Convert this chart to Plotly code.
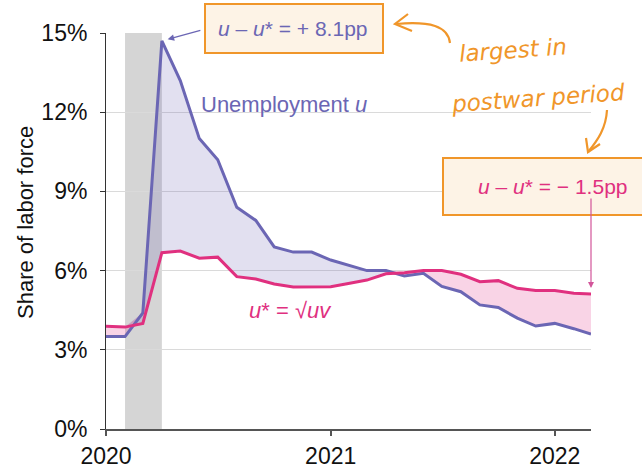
import plotly.graph_objects as go
import pandas as pd

# ---- data ----
months = pd.date_range("2020-01-01", "2022-03-01", freq="MS").strftime("%Y-%m-%d").tolist()
unemployment = [3.5, 3.5, 4.4, 14.7, 13.2, 11.0, 10.2, 8.4, 7.9, 6.9, 6.7, 6.7,
                6.4, 6.2, 6.0, 6.0, 5.8, 5.9, 5.4, 5.2, 4.7, 4.6, 4.2, 3.9,
                4.0, 3.8, 3.6]
u_star = [3.89, 3.86, 4.0, 6.68, 6.74, 6.47, 6.51, 5.77, 5.68, 5.49, 5.38, 5.39,
          5.39, 5.52, 5.64, 5.88, 5.92, 6.0, 6.0, 5.86, 5.58, 5.62, 5.33, 5.25,
          5.25, 5.14, 5.11]
recession = ["2020-02-01", "2020-04-01"]
y_ticks = [0, 3, 6, 9, 12, 15]
y_ticklabels = ["0%", "3%", "6%", "9%", "12%", "15%"]
x_ticks = ["2020-01-01", "2021-01-01", "2022-01-01"]
x_ticklabels = ["2020", "2021", "2022"]
gap_peak = "+ 8.1pp"
gap_last = "− 1.5pp"

upper = [max(a, b) for a, b in zip(unemployment, u_star)]

U_COL = "#6b66b4"
S_COL = "#e0307f"
ORANGE = "#f0962a"
FONT = "Liberation Sans, Arial, sans-serif"

# plot area in pixels
L, R, T, B = 106, 591, 33, 429
def px(x):
    return (x - L) / (R - L)
def py(y):
    return (B - y) / (B - T)

fig = go.Figure()
# lavender fill where u > u*
fig.add_trace(go.Scatter(x=months, y=u_star, mode="lines", line=dict(width=0), hoverinfo="skip", showlegend=False))
fig.add_trace(go.Scatter(x=months, y=upper, mode="lines", line=dict(width=0), fill="tonexty",
                         fillcolor="rgba(108,102,180,0.2)", hoverinfo="skip", showlegend=False))
# pink fill where u* > u
fig.add_trace(go.Scatter(x=months, y=unemployment, mode="lines", line=dict(width=0), hoverinfo="skip", showlegend=False))
fig.add_trace(go.Scatter(x=months, y=upper, mode="lines", line=dict(width=0), fill="tonexty",
                         fillcolor="rgba(228,60,140,0.22)", hoverinfo="skip", showlegend=False))
# lines
fig.add_trace(go.Scatter(x=months, y=unemployment, mode="lines", line=dict(color=U_COL, width=3), showlegend=False))
fig.add_trace(go.Scatter(x=months, y=u_star, mode="lines", line=dict(color=S_COL, width=3), showlegend=False))

shapes = [
    dict(type="rect", xref="x", yref="y", x0=recession[0], x1=recession[1], y0=0, y1=15,
         fillcolor="#d5d5d5", line=dict(width=0), layer="below"),
    # annotation boxes
    dict(type="rect", xref="paper", yref="paper", x0=px(205), x1=px(383), y0=py(4), y1=py(53),
         fillcolor="#fdf3e6", line=dict(color=ORANGE, width=2)),
    dict(type="rect", xref="paper", yref="paper", x0=px(443), x1=px(660), y0=py(158), y1=py(215),
         fillcolor="#fdf3e6", line=dict(color=ORANGE, width=2)),
]

# handwritten arrows
a1 = "M {},{} C {},{} {},{} {},{}".format(px(450), py(43), px(448), py(26), px(430), py(21), px(396), py(24))
a1h = "M {},{} L {},{} L {},{}".format(px(408), py(14), px(395), py(24), px(412), py(31))
a2 = "M {},{} C {},{} {},{} {},{}".format(px(607), py(110), px(606), py(128), px(598), py(140), px(588), py(152))
a2h = "M {},{} L {},{} L {},{}".format(px(586), py(138), px(588), py(152), px(600), py(144))
for p in (a1, a1h, a2, a2h):
    shapes.append(dict(type="path", xref="paper", yref="paper", path=p,
                       line=dict(color=ORANGE, width=2.2)))

def label(x, y, text, size, color, family=FONT, angle=0):
    return dict(xref="paper", yref="paper", x=px(x), y=py(y), xanchor="center", yanchor="middle",
                showarrow=False, text=text, textangle=angle,
                font=dict(family=family, size=size, color=color))

annotations = [
    label(293, 28, "<i>u</i> – <i>u</i>* = " + gap_peak, 21, U_COL),
    label(553, 186, "<i>u</i> – <i>u</i>* = " + gap_last, 21, S_COL),
    label(284, 105, "Unemployment <i>u</i>", 22, U_COL),
    label(290, 310, "<i>u</i>* = √<i>uv</i>", 22, S_COL),
    label(513, 50, "<i>largest in</i>", 23, ORANGE, "DejaVu Sans", -4),
    label(538, 98, "<i>postwar period</i>", 23, ORANGE, "DejaVu Sans", -4),
    label(25, 223, "Share of labor force", 22, "#111", FONT, -90),
    # arrow to peak
    dict(xref="x", yref="y", x=months[3], y=unemployment[3], ax=40, ay=-11, showarrow=True,
         arrowhead=2, arrowsize=1, arrowwidth=1.3, arrowcolor=U_COL, standoff=6, text=""),
    # arrow to last
    dict(xref="x", yref="y", x=months[-1], y=u_star[-1], ax=0, ay=-97, showarrow=True,
         arrowhead=2, arrowsize=1, arrowwidth=1.2, arrowcolor="#d2559a", standoff=6, text=""),
]

fig.update_layout(
    width=642, height=471,
    margin=dict(l=L, r=642 - R, t=T, b=471 - B, pad=0, autoexpand=False),
    paper_bgcolor="white", plot_bgcolor="white",
    font=dict(family=FONT, size=22, color="#111"),
    shapes=shapes, annotations=annotations,
    xaxis=dict(range=[months[0], months[-1]], tickvals=x_ticks, ticktext=x_ticklabels,
               showgrid=False, showline=True, linecolor="#555", linewidth=2,
               ticks="outside", ticklen=5, tickcolor="#555", tickwidth=1.5,
               tickfont=dict(size=23, color="#111"), automargin=False),
    yaxis=dict(range=[0, 15], tickvals=y_ticks, ticktext=y_ticklabels,
               showgrid=True, gridcolor="#dadada", gridwidth=1, zeroline=False,
               showline=True, linecolor="#333", linewidth=1,
               ticks="outside", ticklen=5, tickcolor="#333", ticklabelstandoff=8,
               tickfont=dict(size=23, color="#111"), automargin=False),
)

fig.write_html("out.html", config={"displayModeBar": False},
               post_script="document.body.style.margin='0';")
